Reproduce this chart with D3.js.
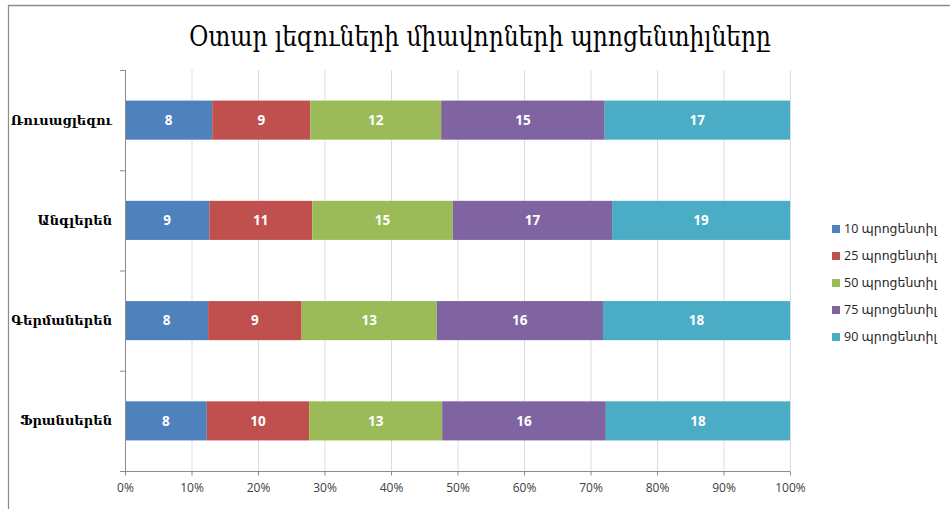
<!DOCTYPE html>
<html>
<head>
<meta charset="utf-8">
<script src="https://cdn.jsdelivr.net/npm/d3@7"></script>
<style>
  body { margin: 0; background: #fff; }
  svg { display: block; }
</style>
</head>
<body>
<div id="chart"></div>
<script>
// chart data
const categories = ['Ռուսացլեզու', 'Անգլերեն', 'Գերմաներեն', 'Ֆրանսերեն'];
const seriesNames = ['10 պրոցենտիլ', '25 պրոցենտիլ', '50 պրոցենտիլ', '75 պրոցենտիլ', '90 պրոցենտիլ'];
const p10 = [8, 9, 8, 8];
const p25 = [9, 11, 9, 10];
const p50 = [12, 15, 13, 13];
const p75 = [15, 17, 16, 16];
const p90 = [17, 19, 18, 18];
const xTicks = [0, 0.1, 0.2, 0.3, 0.4, 0.5, 0.6, 0.7, 0.8, 0.9, 1];
const title = 'Օտար լեզուների միավորների պրոցենտիլները';

const colors = ['#4f81bd', '#c0504d', '#9bbb59', '#8064a2', '#4bacc6'];

const width = 950, height = 509;
const margin = { top: 70, right: 160, bottom: 38, left: 125 };

const svg = d3.select('#chart')
  .append('svg')
  .attr('width', width)
  .attr('height', height);

// frame border (top + left visible)
svg.append('line').attr('x1', 8).attr('x2', width).attr('y1', 5.5).attr('y2', 5.5)
  .attr('stroke', '#8c8c8c').attr('stroke-width', 1.5);
svg.append('line').attr('x1', 8.5).attr('x2', 8.5).attr('y1', 5).attr('y2', height)
  .attr('stroke', '#8c8c8c').attr('stroke-width', 1.2);

// build table for stacking
const seriesValues = [p10, p25, p50, p75, p90];
const table = categories.map((c, i) => {
  const row = { cat: c };
  seriesNames.forEach((s, j) => { row[s] = seriesValues[j][i]; });
  return row;
});

const stacked = d3.stack()
  .keys(seriesNames)
  .offset(d3.stackOffsetExpand)(table);

const x = d3.scaleLinear()
  .domain([0, 1])
  .range([margin.left, width - margin.right]);

const y = d3.scaleBand()
  .domain(categories)
  .range([margin.top, height - margin.bottom])
  .paddingInner(0.61)
  .paddingOuter(0.305);

// gridlines
svg.append('g')
  .selectAll('line')
  .data(xTicks.slice(1))
  .join('line')
  .attr('x1', d => x(d) + 0.5)
  .attr('x2', d => x(d) + 0.5)
  .attr('y1', margin.top)
  .attr('y2', height - margin.bottom)
  .attr('stroke', '#d9dde3')
  .attr('stroke-width', 1);

// bars
const layer = svg.append('g')
  .selectAll('g')
  .data(stacked)
  .join('g')
  .attr('fill', (d, i) => colors[i]);

layer.selectAll('rect')
  .data(d => d.map(v => ({ v: v, key: d.key })))
  .join('rect')
  .attr('x', d => x(d.v[0]))
  .attr('width', d => x(d.v[1]) - x(d.v[0]))
  .attr('y', d => y(d.v.data.cat))
  .attr('height', y.bandwidth());

// value labels
layer.selectAll('text')
  .data(d => d.map(v => ({ v: v, key: d.key })))
  .join('text')
  .attr('x', d => (x(d.v[0]) + x(d.v[1])) / 2)
  .attr('y', d => y(d.v.data.cat) + y.bandwidth() / 2)
  .attr('dy', '0.36em')
  .attr('text-anchor', 'middle')
  .attr('fill', '#fff')
  .style('font-family', '"Open Sans", "DejaVu Sans", sans-serif')
  .style('font-size', '13.5px')
  .style('font-weight', 'bold')
  .text(d => d.v.data[d.key]);

// x axis
const xAxis = svg.append('g')
  .attr('transform', `translate(0, ${height - margin.bottom + 0.5})`)
  .call(d3.axisBottom(x).tickValues(xTicks).tickFormat(d3.format('.0%')).tickSize(4).tickPadding(8));
xAxis.select('.domain').attr('stroke', '#8c8c8c').attr('d', `M${margin.left - 5},0H${width - margin.right}`);
xAxis.selectAll('.tick line').attr('stroke', '#8c8c8c');
xAxis.selectAll('.tick text')
  .attr('fill', '#404040')
  .style('font-family', '"Open Sans", "DejaVu Sans", sans-serif')
  .style('font-size', '12px');

// y axis line and ticks between categories
svg.append('line')
  .attr('x1', margin.left + 0.5).attr('x2', margin.left + 0.5)
  .attr('y1', margin.top).attr('y2', height - margin.bottom)
  .attr('stroke', '#8c8c8c');
const step = y.step();
svg.append('g')
  .selectAll('line')
  .data(d3.range(categories.length + 1))
  .join('line')
  .attr('x1', margin.left - 5).attr('x2', margin.left)
  .attr('y1', i => margin.top + i * step + 0.5)
  .attr('y2', i => margin.top + i * step + 0.5)
  .attr('stroke', '#8c8c8c');

// category labels
svg.append('g')
  .selectAll('text')
  .data(categories)
  .join('text')
  .attr('x', 112)
  .attr('y', d => y(d) + y.bandwidth() / 2)
  .attr('dy', '0.35em')
  .attr('text-anchor', 'end')
  .attr('fill', '#000')
  .style('font-family', '"DejaVu Serif", serif')
  .style('font-size', '13px')
  .style('font-weight', 'bold')
  .text(d => d);

// title
svg.append('text')
  .attr('x', 480)
  .attr('y', 46)
  .attr('text-anchor', 'middle')
  .attr('fill', '#000')
  .attr('textLength', 582)
  .attr('lengthAdjust', 'spacingAndGlyphs')
  .style('font-family', '"DejaVu Serif", serif')
  .style('font-size', '27px')
  .text(title);

// legend
const legend = svg.append('g')
  .selectAll('g')
  .data(seriesNames)
  .join('g')
  .attr('transform', (d, i) => `translate(832, ${229 + i * 27})`);
legend.append('rect')
  .attr('x', 0).attr('y', -4)
  .attr('width', 8).attr('height', 8)
  .attr('fill', (d, i) => colors[i]);
legend.append('text')
  .attr('x', 12)
  .attr('dy', '0.35em')
  .attr('fill', '#262626')
  .style('font-family', '"Open Sans", "DejaVu Sans", sans-serif')
  .style('font-size', '12.5px')
  .text(d => d);
</script>
</body>
</html>
